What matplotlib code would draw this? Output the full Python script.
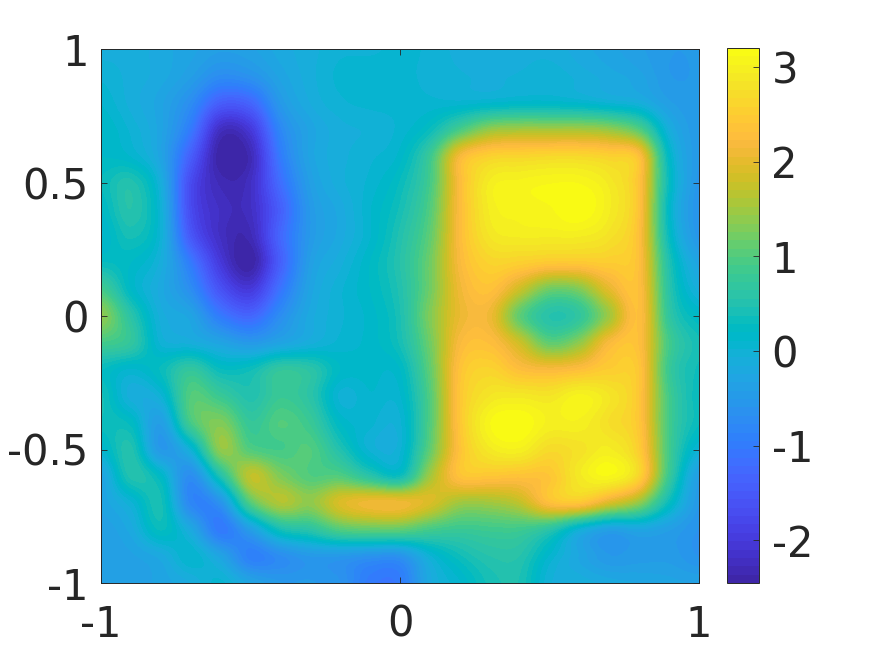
import matplotlib
matplotlib.use('Agg')
import matplotlib.pyplot as plt
from matplotlib.colors import ListedColormap
import numpy as np

plt.rcParams['font.family'] = 'DejaVu Sans'
plt.rcParams['axes.unicode_minus'] = False

# parula
parula = [[0.2422,0.1504,0.6603],[0.2504,0.1650,0.7076],[0.2578,0.1818,0.7511],[0.2647,0.1978,0.7952],
          [0.2706,0.2147,0.8364],[0.2751,0.2342,0.8710],[0.2783,0.2559,0.8991],[0.2803,0.2782,0.9221],
          [0.2813,0.3006,0.9414],[0.2810,0.3228,0.9579],[0.2795,0.3447,0.9717],[0.2760,0.3667,0.9829],
          [0.2699,0.3892,0.9906],[0.2602,0.4123,0.9952],[0.2440,0.4358,0.9988],[0.2206,0.4603,0.9973],
          [0.1963,0.4847,0.9892],[0.1834,0.5074,0.9798],[0.1786,0.5289,0.9682],[0.1764,0.5499,0.9520],
          [0.1687,0.5703,0.9359],[0.1540,0.5902,0.9218],[0.1460,0.6091,0.9079],[0.1380,0.6276,0.8973],
          [0.1248,0.6459,0.8883],[0.1113,0.6635,0.8763],[0.0952,0.6798,0.8598],[0.0689,0.6948,0.8394],
          [0.0297,0.7082,0.8163],[0.0036,0.7203,0.7917],[0.0067,0.7312,0.7660],[0.0433,0.7411,0.7394],
          [0.0964,0.7500,0.7120],[0.1408,0.7584,0.6842],[0.1717,0.7670,0.6554],[0.1938,0.7758,0.6251],
          [0.2161,0.7843,0.5923],[0.2470,0.7918,0.5567],[0.2906,0.7973,0.5188],[0.3406,0.8008,0.4789],
          [0.3909,0.8029,0.4354],[0.4456,0.8024,0.3909],[0.5044,0.7993,0.3480],[0.5616,0.7942,0.3045],
          [0.6174,0.7876,0.2612],[0.6720,0.7793,0.2227],[0.7242,0.7698,0.1910],[0.7738,0.7598,0.1646],
          [0.8203,0.7498,0.1535],[0.8634,0.7406,0.1596],[0.9035,0.7330,0.1774],[0.9393,0.7288,0.2100],
          [0.9728,0.7298,0.2394],[0.9956,0.7434,0.2371],[0.9970,0.7659,0.2199],[0.9952,0.7893,0.2028],
          [0.9892,0.8136,0.1885],[0.9786,0.8386,0.1766],[0.9676,0.8639,0.1643],[0.9610,0.8890,0.1537],
          [0.9597,0.9135,0.1423],[0.9628,0.9373,0.1265],[0.9691,0.9606,0.1064],[0.9769,0.9839,0.0805]]

# values, one row per y from 1 down to -1, x from -1 to 1
row_p10 = [-0.1,-0.1,-0.2,-0.3,-0.4,-0.35,-0.2,-0.1,0,0,0.05,0,-0.1,-0.15,-0.1,-0.1,-0.2,-0.3,-0.4,-0.5,-0.5]
row_p09 = [0,-0.1,-0.2,-0.4,-0.7,-0.6,-0.3,-0.1,0.05,0.1,0.05,0,-0.05,-0.1,-0.05,0,-0.1,-0.2,-0.3,-0.5,-0.5]
row_p08 = [0.1,-0.1,-0.3,-0.7,-1.4,-1.3,-0.5,-0.15,0,0.05,0.05,0.05,0.05,0.1,0.15,0.15,0.1,0,-0.1,-0.4,-0.5]
row_p07 = [0.2,0,-0.3,-1.0,-2.2,-2.0,-0.8,-0.3,-0.1,-0.05,0.05,0.3,0.9,1.4,1.5,1.5,1.5,1.4,1.0,-0.1,-0.5]
row_p06 = [0.2,0.1,-0.3,-1.4,-2.45,-2.3,-1.0,-0.3,-0.1,0,0.15,0.8,2.15,2.55,2.6,2.65,2.65,2.55,2.3,0.2,-0.5]
row_p05 = [0.3,0.5,-0.1,-1.7,-2.3,-2.2,-1.2,-0.4,-0.1,0.05,0.3,0.9,2.25,2.95,3.05,3.1,3.1,2.9,2.35,0.3,-0.55]
row_p04 = [0.2,0.55,0,-1.7,-2.2,-2.2,-1.4,-0.5,-0.2,0.1,0.4,1.0,2.25,2.95,3.05,3.1,3.2,2.95,2.35,0.2,-0.6]
row_p03 = [0.1,0.4,0,-1.5,-2.2,-2.3,-1.3,-0.5,-0.2,0.1,0.5,1.1,2.25,2.85,2.95,2.95,2.95,2.8,2.3,0.3,-0.55]
row_p02 = [0.3,0.2,-0.1,-1.0,-2.0,-2.45,-1.4,-0.4,-0.1,0.2,0.55,1.2,2.2,2.6,2.55,2.45,2.45,2.5,2.3,0.5,-0.3]
row_p01 = [0.9,0.2,-0.2,-0.7,-1.6,-2.0,-1.1,-0.3,0,0.2,0.5,1.2,2.1,2.35,1.8,1.2,1.3,2.0,2.3,0.6,-0.1]
row_000 = [1.4,0.6,-0.1,-0.3,-1.0,-1.3,-0.7,-0.2,0,0.15,0.45,1.3,2.05,2.1,1.1,0.55,0.7,1.5,2.3,0.7,0.2]
row_m01 = [0.9,0.7,0,-0.1,-0.3,-0.5,-0.3,-0.1,0.05,0.15,0.4,1.2,2.2,2.3,1.8,1.1,1.4,2.2,2.3,0.9,0.4]
row_m02 = [0.3,0.1,0.3,0.7,0.3,0.35,0.7,0.6,0.2,0.15,0.2,1.1,2.35,2.6,2.3,2.2,2.3,2.5,2.4,0.8,0.35]
row_m03 = [0.4,-0.1,0,1.0,0.8,0.5,0.8,0.6,0,0.1,0.1,1.0,2.4,2.85,2.9,2.85,3.05,2.85,2.4,0.9,0.3]
row_m04 = [0.35,0.25,-0.4,0.9,1.3,0.75,1.0,0.8,0.2,0.05,0,1.0,2.4,3.1,3.2,3.0,3.0,2.75,2.4,0.9,0.3]
row_m05 = [0.1,0.5,-0.5,0,1.4,1.0,0.9,1.0,0.5,0,0,1.1,2.35,2.9,3.0,2.7,2.8,2.95,2.5,0.9,0]
row_m06 = [-0.3,0.5,0.2,-0.7,0.5,1.7,1.3,1.0,1.0,0.6,0.35,1.5,2.35,2.4,2.35,2.4,2.9,3.1,2.6,0.8,-0.4]
row_m07 = [-0.3,0,0.4,-0.8,-0.6,1.0,1.6,1.4,1.9,2.1,2.1,1.9,1.5,1.5,1.7,2.3,2.4,1.9,1.4,0.3,-0.5]
row_m08 = [-0.4,-0.2,0.3,-0.2,-1.0,-0.4,0.4,0.6,1.0,1.1,1.1,0.9,0.8,0.85,0.85,0.6,0,-0.35,-0.25,-0.4,-0.6]
row_m09 = [-0.4,-0.35,-0.2,0.1,-0.3,-0.9,-0.7,-0.5,-0.5,-0.6,-0.6,0,0.35,0.55,0.55,0.1,-0.25,-0.5,-0.45,-0.45,-0.6]
row_m10 = [-0.4,-0.4,-0.3,-0.15,0.05,-0.3,-0.5,-0.5,-0.6,-1.0,-1.0,-0.2,0.1,0.4,0.45,-0.05,-0.1,-0.2,-0.25,-0.3,-0.35]

rows = [row_p10, row_p09, row_p08, row_p07, row_p06, row_p05, row_p04, row_p03, row_p02, row_p01, row_000,
        row_m01, row_m02, row_m03, row_m04, row_m05, row_m06, row_m07, row_m08, row_m09, row_m10]

xticks = [-1, 0, 1]
yticks = [-1, -0.5, 0, 0.5, 1]
yticklabels = ['-1', '-0.5', '0', '0.5', '1']
cticks = [-2, -1, 0, 1, 2, 3]
clim = (-2.45, 3.2)

W, H = 875, 656
dark = (0.15, 0.15, 0.15)

fig = plt.figure(figsize=(W / 100, H / 100), dpi=100)
ax = fig.add_axes([101 / W, 1 - 583 / H, 598 / W, 534 / H])
im = ax.imshow(np.array(rows), cmap=ListedColormap(parula), vmin=clim[0], vmax=clim[1],
               extent=[-1.05, 1.05, -1.05, 1.05], interpolation='catrom', aspect='auto')
ax.set_xlim(-1, 1)
ax.set_ylim(-1, 1)
ax.set_xticks(xticks)
ax.set_xticklabels([str(t) for t in xticks])
ax.set_yticks(yticks)
ax.set_yticklabels(yticklabels)
ax.tick_params(direction='in', top=True, right=True, length=4, width=0.6, color=dark,
               labelsize=30, labelcolor=dark)
ax.tick_params(axis='x', pad=15)
ax.tick_params(axis='y', pad=9)
for s in ax.spines.values():
    s.set_linewidth(0.7)
    s.set_color(dark)

cax = fig.add_axes([727 / W, 1 - 583 / H, 32 / W, 535 / H])
cb = fig.colorbar(im, cax=cax)
cb.set_ticks(cticks)
cb.set_ticklabels([str(t) for t in cticks])
cax.tick_params(direction='in', length=4, width=0.6, color=dark, labelsize=30, labelcolor=dark, pad=9)
cb.outline.set_linewidth(0.7)
cb.outline.set_edgecolor(dark)

fig.savefig('out.png', dpi=100)
